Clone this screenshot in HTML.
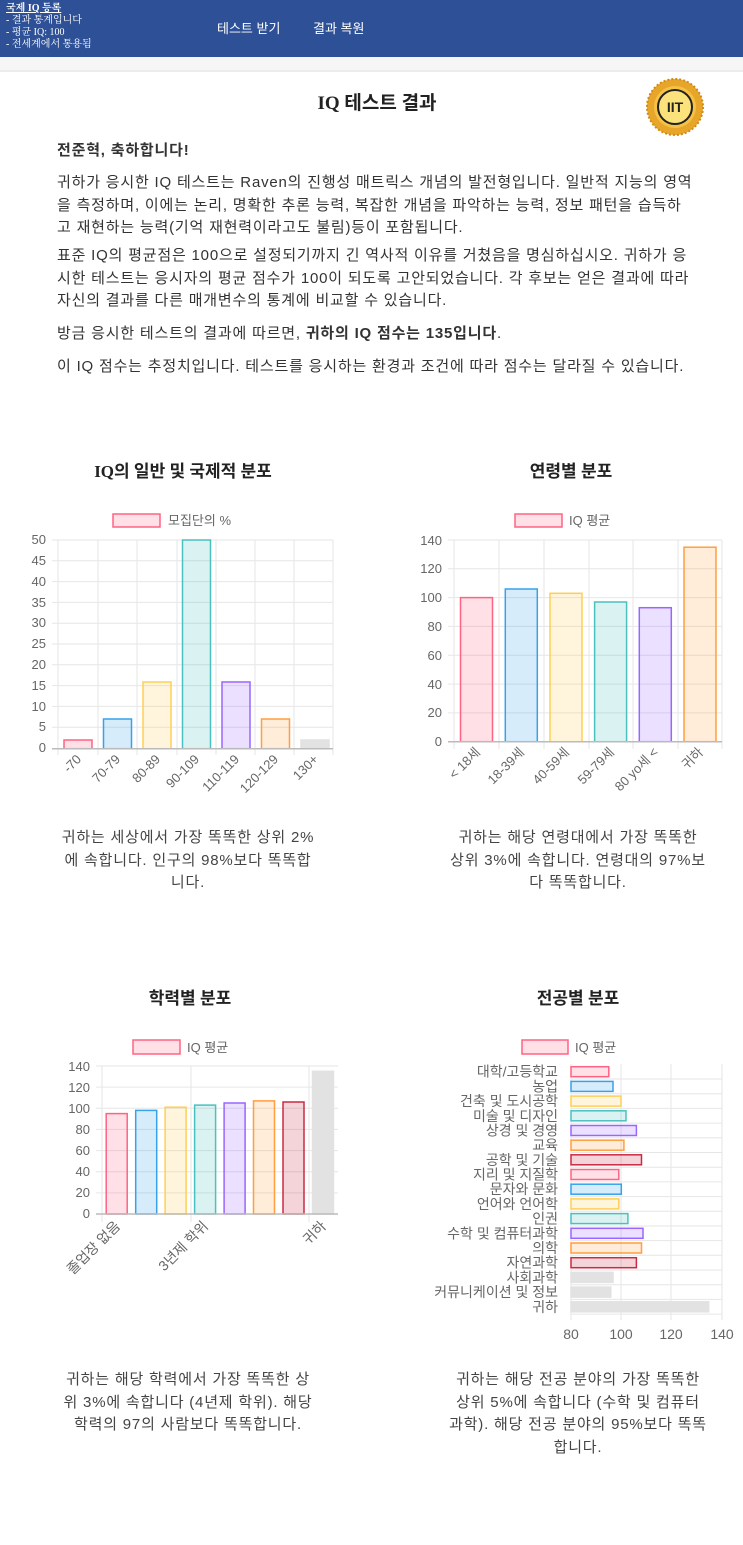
<!DOCTYPE html>
<html><head><meta charset="utf-8">
<style>
*{margin:0;padding:0;box-sizing:border-box}
body{width:743px;height:1545px;background:#fff;position:relative;overflow:hidden;font-family:"Liberation Sans","Noto Sans CJK KR",sans-serif;color:#333}
.hdr{position:absolute;left:0;top:0;width:743px;height:57px;background:#2e5096}
.band{position:absolute;left:0;top:57px;width:743px;height:15px;background:#f6f6f6;border-bottom:2px solid #ececec}
.ht{position:absolute;color:#fff;font-family:"Liberation Serif","Noto Serif CJK SC",serif;font-size:10px;white-space:nowrap;line-height:12px}
.nav{position:absolute;top:18px;color:#fff;font-size:13px;white-space:nowrap}
.t{position:absolute;white-space:nowrap;font-size:15px;line-height:22.5px;color:#333;letter-spacing:0.8px}
.cap{position:absolute;text-align:center;font-size:15px;line-height:22.5px;color:#444;white-space:nowrap;letter-spacing:0.8px}
.ttl{position:absolute;font-family:"Liberation Serif","Noto Sans CJK KR",serif;font-weight:bold;font-size:17px;color:#222;white-space:nowrap;transform:translateX(-50%)}
</style></head><body>
<div class="hdr"></div>
<div class="band"></div>
<div class="ht" style="left:6px;top:3px;text-decoration:underline;font-weight:bold">국제 IQ 등록</div>
<div class="ht" style="left:6px;top:15px">- 결과 통계입니다</div>
<div class="ht" style="left:6px;top:27px">- 평균 IQ: 100</div>
<div class="ht" style="left:6px;top:39px">- 전세계에서 통용됨</div>
<div class="nav" style="left:217px">테스트 받기</div>
<div class="nav" style="left:313px">결과 복원</div>

<div class="ttl" style="left:377px;top:88px;font-size:19px">IQ 테스트 결과</div>
<svg style="position:absolute;left:645px;top:78px" width="60" height="58" viewBox="0 0 60 58">
<circle cx="30" cy="29" r="28" fill="#e7a52a" stroke="#d08b14" stroke-width="2" stroke-dasharray="2 2"/>
<circle cx="30" cy="29" r="21" fill="#f6c244"/>
<circle cx="30" cy="29" r="17" fill="#fbe27a" stroke="#222" stroke-width="2"/>
<text x="30" y="34" text-anchor="middle" font-family="Liberation Sans" font-weight="bold" font-size="14" fill="#222">IIT</text>
</svg>

<div class="t" style="left:57px;top:140px;font-weight:bold">전준혁, 축하합니다!</div>
<div class="t" style="left:57px;top:172px">귀하가 응시한 IQ 테스트는 Raven의 진행성 매트릭스 개념의 발전형입니다. 일반적 지능의 영역<br>을 측정하며, 이에는 논리, 명확한 추론 능력, 복잡한 개념을 파악하는 능력, 정보 패턴을 습득하<br>고 재현하는 능력(기억 재현력이라고도 불림)등이 포함됩니다.</div>
<div class="t" style="left:57px;top:245px">표준 IQ의 평균점은 100으로 설정되기까지 긴 역사적 이유를 거쳤음을 명심하십시오. 귀하가 응<br>시한 테스트는 응시자의 평균 점수가 100이 되도록 고안되었습니다. 각 후보는 얻은 결과에 따라<br>자신의 결과를 다른 매개변수의 통계에 비교할 수 있습니다.</div>
<div class="t" style="left:57px;top:323px">방금 응시한 테스트의 결과에 따르면, <b>귀하의 IQ 점수는 135입니다</b>.</div>
<div class="t" style="left:57px;top:356px">이 IQ 점수는 추정치입니다. 테스트를 응시하는 환경과 조건에 따라 점수는 달라질 수 있습니다.</div>

<div class="ttl" style="left:183px;top:457px">IQ의 일반 및 국제적 분포</div>
<div class="ttl" style="left:571px;top:457px">연령별 분포</div>
<div class="ttl" style="left:190px;top:984px">학력별 분포</div>
<div class="ttl" style="left:578px;top:984px">전공별 분포</div>

<div class="cap" style="left:38px;width:300px;top:827px">귀하는 세상에서 가장 똑똑한 상위 2%<br>에 속합니다. 인구의 98%보다 똑똑합<br>니다.</div>
<div class="cap" style="left:428px;width:300px;top:827px">귀하는 해당 연령대에서 가장 똑똑한<br>상위 3%에 속합니다. 연령대의 97%보<br>다 똑똑합니다.</div>
<div class="cap" style="left:38px;width:300px;top:1369px">귀하는 해당 학력에서 가장 똑똑한 상<br>위 3%에 속합니다 (4년제 학위). 해당<br>학력의 97의 사람보다 똑똑합니다.</div>
<div class="cap" style="left:428px;width:300px;top:1369px">귀하는 해당 전공 분야의 가장 똑똑한<br>상위 5%에 속합니다 (수학 및 컴퓨터<br>과학). 해당 전공 분야의 95%보다 똑똑<br>합니다.</div>

<svg style="position:absolute;left:0;top:0" width="743" height="1545" font-family="Liberation Sans, Noto Sans CJK KR, sans-serif" font-size="13" fill="#666">
<!-- Chart 1 -->
<rect x="113" y="514" width="47" height="13" fill="rgba(255,99,132,0.2)" stroke="rgb(255,99,132)" stroke-width="1.5"/>
<text x="168" y="525" fill="#666">모집단의 %</text>
<g stroke="#e6e6e6" stroke-width="1">
<line x1="52" y1="540" x2="333" y2="540"/><line x1="52" y1="560.8" x2="333" y2="560.8"/><line x1="52" y1="581.6" x2="333" y2="581.6"/><line x1="52" y1="602.4" x2="333" y2="602.4"/><line x1="52" y1="623.2" x2="333" y2="623.2"/><line x1="52" y1="644" x2="333" y2="644"/><line x1="52" y1="664.8" x2="333" y2="664.8"/><line x1="52" y1="685.6" x2="333" y2="685.6"/><line x1="52" y1="706.4" x2="333" y2="706.4"/><line x1="52" y1="727.2" x2="333" y2="727.2"/>
<line x1="58" y1="540" x2="58" y2="755"/><line x1="98" y1="540" x2="98" y2="755"/><line x1="137" y1="540" x2="137" y2="755"/><line x1="177" y1="540" x2="177" y2="755"/><line x1="216" y1="540" x2="216" y2="755"/><line x1="255" y1="540" x2="255" y2="755"/><line x1="294" y1="540" x2="294" y2="755"/><line x1="333" y1="540" x2="333" y2="755"/>
</g>
<g text-anchor="end">
<text x="46" y="544">50</text><text x="46" y="565">45</text><text x="46" y="586">40</text><text x="46" y="607">35</text><text x="46" y="627">30</text><text x="46" y="648">25</text><text x="46" y="669">20</text><text x="46" y="690">15</text><text x="46" y="711">10</text><text x="46" y="731">5</text><text x="46" y="752">0</text>
</g>
<g stroke-width="1.5">
<rect x="64" y="740" width="28" height="8.7" fill="rgba(255,99,132,0.2)" stroke="rgb(255,99,132)"/>
<rect x="103.5" y="719" width="28" height="29.7" fill="rgba(54,162,235,0.2)" stroke="rgb(54,162,235)"/>
<rect x="143" y="682" width="28" height="66.7" fill="rgba(255,206,86,0.2)" stroke="rgb(255,206,86)"/>
<rect x="182.5" y="540" width="28" height="208.7" fill="rgba(75,192,192,0.2)" stroke="rgb(75,192,192)"/>
<rect x="222" y="682" width="28" height="66.7" fill="rgba(153,102,255,0.2)" stroke="rgb(153,102,255)"/>
<rect x="261.5" y="719" width="28" height="29.7" fill="rgba(255,159,64,0.2)" stroke="rgb(255,159,64)"/>
<rect x="301" y="740" width="28" height="8.7" fill="#e2e2e2" stroke="#e2e2e2"/>
</g>
<line x1="52" y1="748.7" x2="333" y2="748.7" stroke="#bbb" stroke-width="1.5"/>
<g text-anchor="end">
<text transform="translate(82,760) rotate(-45)">-70</text>
<text transform="translate(121,760) rotate(-45)">70-79</text>
<text transform="translate(161,760) rotate(-45)">80-89</text>
<text transform="translate(200,760) rotate(-45)">90-109</text>
<text transform="translate(240,760) rotate(-45)">110-119</text>
<text transform="translate(279,760) rotate(-45)">120-129</text>
<text transform="translate(319,760) rotate(-45)">130+</text>
</g>

<!-- Chart 2 -->
<rect x="515" y="514" width="47" height="13" fill="rgba(255,99,132,0.2)" stroke="rgb(255,99,132)" stroke-width="1.5"/>
<text x="569" y="525">IQ 평균</text>
<g stroke="#e6e6e6">
<line x1="448" y1="540" x2="722" y2="540"/><line x1="448" y1="568.8" x2="722" y2="568.8"/><line x1="448" y1="597.6" x2="722" y2="597.6"/><line x1="448" y1="626.4" x2="722" y2="626.4"/><line x1="448" y1="655.3" x2="722" y2="655.3"/><line x1="448" y1="684.1" x2="722" y2="684.1"/><line x1="448" y1="712.9" x2="722" y2="712.9"/>
<line x1="454" y1="540" x2="454" y2="749"/><line x1="499" y1="540" x2="499" y2="749"/><line x1="544" y1="540" x2="544" y2="749"/><line x1="589" y1="540" x2="589" y2="749"/><line x1="633" y1="540" x2="633" y2="749"/><line x1="678" y1="540" x2="678" y2="749"/><line x1="722" y1="540" x2="722" y2="749"/>
</g>
<g text-anchor="end">
<text x="442" y="545">140</text><text x="442" y="573">120</text><text x="442" y="602">100</text><text x="442" y="631">80</text><text x="442" y="660">60</text><text x="442" y="689">40</text><text x="442" y="717">20</text><text x="442" y="746">0</text>
</g>
<g stroke-width="1.5">
<rect x="460.5" y="597.6" width="32" height="144.1" fill="rgba(255,99,132,0.2)" stroke="rgb(255,99,132)"/>
<rect x="505.3" y="589" width="32" height="152.7" fill="rgba(54,162,235,0.2)" stroke="rgb(54,162,235)"/>
<rect x="550" y="593.3" width="32" height="148.4" fill="rgba(255,206,86,0.2)" stroke="rgb(255,206,86)"/>
<rect x="594.6" y="602" width="32" height="139.7" fill="rgba(75,192,192,0.2)" stroke="rgb(75,192,192)"/>
<rect x="639.3" y="607.7" width="32" height="134" fill="rgba(153,102,255,0.2)" stroke="rgb(153,102,255)"/>
<rect x="684" y="547.2" width="32" height="194.5" fill="rgba(255,159,64,0.2)" stroke="rgb(255,159,64)"/>
</g>
<line x1="448" y1="741.7" x2="722" y2="741.7" stroke="#bbb" stroke-width="1.5"/>
<g text-anchor="end">
<text transform="translate(481,753) rotate(-45)">&lt; 18세</text>
<text transform="translate(525,753) rotate(-45)">18-39세</text>
<text transform="translate(570,753) rotate(-45)">40-59세</text>
<text transform="translate(615,753) rotate(-45)">59-79세</text>
<text transform="translate(659,753) rotate(-45)">80 yo세 &lt;</text>
<text transform="translate(704,753) rotate(-45)">귀하</text>
</g>

<!-- Chart 3 -->
<rect x="133" y="1040" width="47" height="14" fill="rgba(255,99,132,0.2)" stroke="rgb(255,99,132)" stroke-width="1.5"/>
<text x="187" y="1052">IQ 평균</text>
<g stroke="#e6e6e6">
<line x1="96" y1="1066" x2="338" y2="1066"/><line x1="96" y1="1087.1" x2="338" y2="1087.1"/><line x1="96" y1="1108.3" x2="338" y2="1108.3"/><line x1="96" y1="1129.4" x2="338" y2="1129.4"/><line x1="96" y1="1150.6" x2="338" y2="1150.6"/><line x1="96" y1="1171.7" x2="338" y2="1171.7"/><line x1="96" y1="1192.9" x2="338" y2="1192.9"/>
<line x1="102" y1="1066" x2="102" y2="1222"/><line x1="191" y1="1066" x2="191" y2="1222"/><line x1="309" y1="1066" x2="309" y2="1222"/>
</g>
<g text-anchor="end">
<text x="90" y="1071">140</text><text x="90" y="1092">120</text><text x="90" y="1113">100</text><text x="90" y="1134">80</text><text x="90" y="1155">60</text><text x="90" y="1176">40</text><text x="90" y="1197">20</text><text x="90" y="1218">0</text>
</g>
<g stroke-width="1.5">
<rect x="106.2" y="1113.6" width="21" height="100.4" fill="rgba(255,99,132,0.2)" stroke="rgb(255,99,132)"/>
<rect x="135.7" y="1110.4" width="21" height="103.6" fill="rgba(54,162,235,0.2)" stroke="rgb(54,162,235)"/>
<rect x="165.1" y="1107.2" width="21" height="106.8" fill="rgba(255,206,86,0.2)" stroke="rgb(255,206,86)"/>
<rect x="194.6" y="1105.1" width="21" height="108.9" fill="rgba(75,192,192,0.2)" stroke="rgb(75,192,192)"/>
<rect x="224.1" y="1103" width="21" height="111" fill="rgba(153,102,255,0.2)" stroke="rgb(153,102,255)"/>
<rect x="253.5" y="1100.9" width="21" height="113.1" fill="rgba(255,159,64,0.2)" stroke="rgb(255,159,64)"/>
<rect x="283" y="1102" width="21" height="112" fill="rgba(201,42,66,0.2)" stroke="rgb(201,42,66)"/>
<rect x="312.5" y="1071.3" width="21" height="142.7" fill="#e2e2e2" stroke="#e2e2e2"/>
</g>
<line x1="96" y1="1214" x2="338" y2="1214" stroke="#bbb" stroke-width="1.5"/>
<g text-anchor="end" font-size="14">
<text transform="translate(121,1227) rotate(-45)">졸업장 없음</text>
<text transform="translate(209,1227) rotate(-45)">3년제 학위</text>
<text transform="translate(327,1227) rotate(-45)">귀하</text>
</g>

<!-- Chart 4 -->
<rect x="522" y="1040" width="46" height="14" fill="rgba(255,99,132,0.2)" stroke="rgb(255,99,132)" stroke-width="1.5"/>
<text x="575" y="1052">IQ 평균</text>
<g stroke="#e6e6e6">
<line x1="571" y1="1064" x2="571" y2="1320"/><line x1="621" y1="1064" x2="621" y2="1320"/><line x1="671" y1="1064" x2="671" y2="1320"/><line x1="722" y1="1064" x2="722" y2="1320"/>
<line x1="571" y1="1079" x2="722" y2="1079"/><line x1="571" y1="1093.7" x2="722" y2="1093.7"/><line x1="571" y1="1108.4" x2="722" y2="1108.4"/><line x1="571" y1="1123.1" x2="722" y2="1123.1"/><line x1="571" y1="1137.8" x2="722" y2="1137.8"/><line x1="571" y1="1152.5" x2="722" y2="1152.5"/><line x1="571" y1="1167.2" x2="722" y2="1167.2"/><line x1="571" y1="1181.9" x2="722" y2="1181.9"/><line x1="571" y1="1196.6" x2="722" y2="1196.6"/><line x1="571" y1="1211.3" x2="722" y2="1211.3"/><line x1="571" y1="1226" x2="722" y2="1226"/><line x1="571" y1="1240.6" x2="722" y2="1240.6"/><line x1="571" y1="1255.3" x2="722" y2="1255.3"/><line x1="571" y1="1270" x2="722" y2="1270"/><line x1="571" y1="1284.7" x2="722" y2="1284.7"/><line x1="571" y1="1299.4" x2="722" y2="1299.4"/><line x1="571" y1="1314.1" x2="722" y2="1314.1"/>
</g>
<g stroke-width="1.5">
<rect x="571" y="1066.7" width="37.8" height="10" fill="rgba(255,99,132,0.2)" stroke="rgb(255,99,132)"/>
<rect x="571" y="1081.4" width="42" height="10" fill="rgba(54,162,235,0.2)" stroke="rgb(54,162,235)"/>
<rect x="571" y="1096.1" width="50" height="10" fill="rgba(255,206,86,0.2)" stroke="rgb(255,206,86)"/>
<rect x="571" y="1110.8" width="55" height="10" fill="rgba(75,192,192,0.2)" stroke="rgb(75,192,192)"/>
<rect x="571" y="1125.5" width="65.4" height="10" fill="rgba(153,102,255,0.2)" stroke="rgb(153,102,255)"/>
<rect x="571" y="1140.2" width="52.9" height="10" fill="rgba(255,159,64,0.2)" stroke="rgb(255,159,64)"/>
<rect x="571" y="1154.8" width="70.5" height="10" fill="rgba(201,42,66,0.2)" stroke="rgb(201,42,66)"/>
<rect x="571" y="1169.5" width="47.8" height="10" fill="rgba(255,99,132,0.2)" stroke="rgb(255,99,132)"/>
<rect x="571" y="1184.2" width="50.3" height="10" fill="rgba(54,162,235,0.2)" stroke="rgb(54,162,235)"/>
<rect x="571" y="1198.9" width="47.8" height="10" fill="rgba(255,206,86,0.2)" stroke="rgb(255,206,86)"/>
<rect x="571" y="1213.6" width="56.9" height="10" fill="rgba(75,192,192,0.2)" stroke="rgb(75,192,192)"/>
<rect x="571" y="1228.3" width="72" height="10" fill="rgba(153,102,255,0.2)" stroke="rgb(153,102,255)"/>
<rect x="571" y="1243" width="70.5" height="10" fill="rgba(255,159,64,0.2)" stroke="rgb(255,159,64)"/>
<rect x="571" y="1257.7" width="65.4" height="10" fill="rgba(201,42,66,0.2)" stroke="rgb(201,42,66)"/>
<rect x="571" y="1272.4" width="42" height="10" fill="#e2e2e2" stroke="#e2e2e2"/>
<rect x="571" y="1287.1" width="39.8" height="10" fill="#e2e2e2" stroke="#e2e2e2"/>
<rect x="571" y="1301.8" width="137.7" height="10" fill="#e2e2e2" stroke="#e2e2e2"/>
</g>
<g text-anchor="end" font-size="14">
<text x="558" y="1076.7">대학/고등학교</text>
<text x="558" y="1091.4">농업</text>
<text x="558" y="1106.1">건축 및 도시공학</text>
<text x="558" y="1120.8">미술 및 디자인</text>
<text x="558" y="1135.5">상경 및 경영</text>
<text x="558" y="1150.2">교육</text>
<text x="558" y="1164.9">공학 및 기술</text>
<text x="558" y="1179.5">지리 및 지질학</text>
<text x="558" y="1194.2">문자와 문화</text>
<text x="558" y="1208.9">언어와 언어학</text>
<text x="558" y="1223.6">인권</text>
<text x="558" y="1238.3">수학 및 컴퓨터과학</text>
<text x="558" y="1253">의학</text>
<text x="558" y="1267.7">자연과학</text>
<text x="558" y="1282.4">사회과학</text>
<text x="558" y="1297.1">커뮤니케이션 및 정보</text>
<text x="558" y="1311.8">귀하</text>
</g>
<g text-anchor="middle" font-size="14">
<text x="571" y="1339">80</text><text x="621" y="1339">100</text><text x="671" y="1339">120</text><text x="722" y="1339">140</text>
</g>
</svg>
</body></html>
